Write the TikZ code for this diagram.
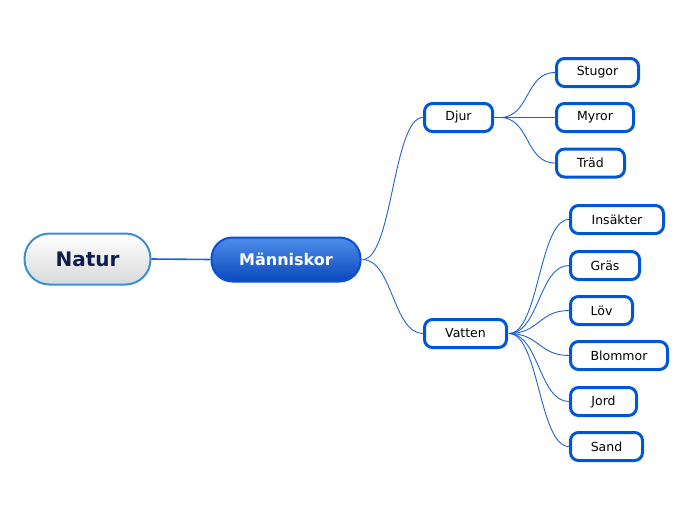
\documentclass[tikz,border=0pt]{standalone}
\usepackage{fontspec}
\setmainfont{DejaVu Sans}
\usetikzlibrary{calc}
\definecolor{leafblue}{HTML}{0057D6}
\definecolor{linkblue}{HTML}{1E62D4}
\definecolor{naturborder}{HTML}{3A8FD0}
\definecolor{naturtext}{HTML}{0B1E4E}
\definecolor{mantop}{HTML}{4D8EEA}
\definecolor{manbot}{HTML}{0A48BC}
\definecolor{manborder}{HTML}{0A50D8}
\tikzset{
  leaf/.style={draw=leafblue, line width=3pt, fill=white, rounded corners=8pt,
    minimum height=28pt, inner sep=0pt, font=\fontsize{12.5}{14}\selectfont, text=black},
  link/.style={draw=linkblue, line width=0.9pt},
}
\newcommand{\curvelink}[2]{%
  \draw[link] (#1) .. controls ($(#1)+(30,0)$) and ($(#2)+(-30,0)$) .. (#2);}
\begin{document}
\begin{tikzpicture}[x=1pt,y=-1pt]
\useasboundingbox (0,0) rectangle (696,520);
% main nodes
\node[draw=naturborder, line width=2pt, rounded corners=25pt, top color=white, bottom color=black!15!white,
  minimum width=126pt, minimum height=51pt, inner sep=0pt,
  font=\bfseries\fontsize{20}{24}\selectfont, text=naturtext] (natur) at (87.5,259) {Natur};
\node[draw=manborder, line width=2pt, rounded corners=21pt, top color=mantop, bottom color=manbot,
  minimum width=149pt, minimum height=44pt, inner sep=0pt,
  font=\bfseries\fontsize{16}{19}\selectfont, text=white] (man) at (286,259.5) {Människor};
% level 2
\node[leaf, minimum width=68pt] (djur) at (458.5,117.5) {Djur};
\node[leaf, minimum width=82pt] (vatten) at (465.5,333.5) {Vatten};
% leaves of Djur
\node[leaf, minimum width=82pt] (stugor) at (597.5,72.5) {Stugor};
\node[leaf, minimum width=77pt] (myror) at (595,117.5) {Myror};
\node[leaf, minimum width=68pt] (trad) at (590.5,163) {Träd};
% leaves of Vatten
\node[leaf, minimum width=93pt] (insakter) at (617,219.5) {Insäkter};
\node[leaf, minimum width=69pt] (gras) at (605,265.5) {Gräs};
\node[leaf, minimum width=62pt] (lov) at (601.5,310.5) {Löv};
\node[leaf, minimum width=97pt] (blommor) at (619,355.5) {Blommor};
\node[leaf, minimum width=66pt] (jord) at (603.5,401.5) {Jord};
\node[leaf, minimum width=72pt] (sand) at (606.5,446.5) {Sand};
% connectors
\draw[link, line width=1.6pt] (natur.east) -- (man.west);
\coordinate (manout) at ($(man.east)+(1,0)$);
\coordinate (djurout) at ($(djur.east)+(6,0)$);
\coordinate (vattenout) at ($(vatten.east)+(1,0)$);
\curvelink{manout}{djur.west}
\curvelink{manout}{vatten.west}
\draw[link] (djur.east) -- (djurout);
\curvelink{djurout}{stugor.west}
\curvelink{djurout}{myror.west}
\curvelink{djurout}{trad.west}
\curvelink{vattenout}{insakter.west}
\curvelink{vattenout}{gras.west}
\curvelink{vattenout}{lov.west}
\curvelink{vattenout}{blommor.west}
\curvelink{vattenout}{jord.west}
\curvelink{vattenout}{sand.west}
\end{tikzpicture}
\end{document}
